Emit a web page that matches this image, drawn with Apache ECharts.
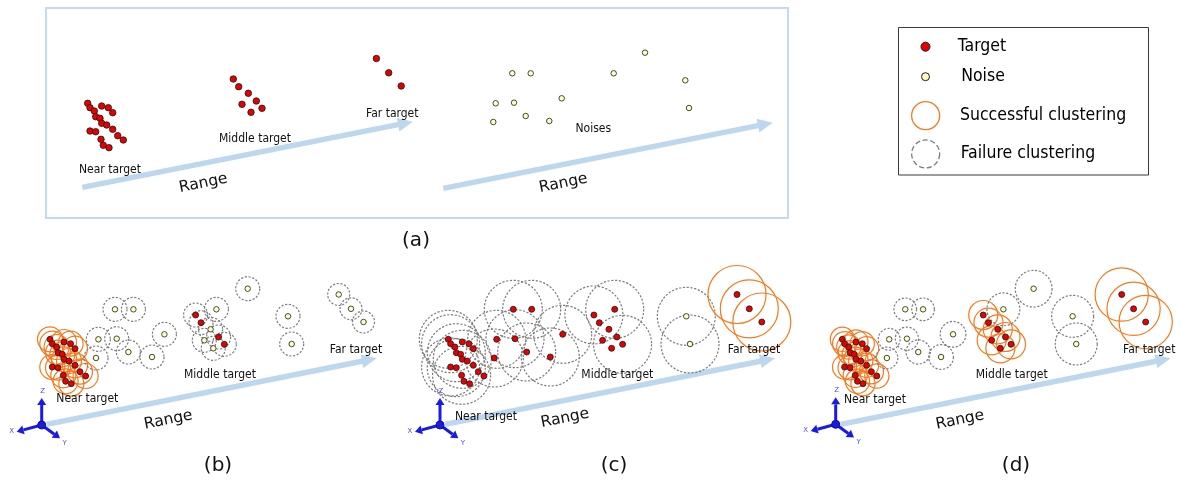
<!DOCTYPE html>
<html>
<head>
<meta charset="utf-8">
<script src="https://cdn.jsdelivr.net/npm/echarts@6/dist/echarts.min.js"></script>
<style>
  html, body { margin: 0; padding: 0; background: #fff; }
  #chart { width: 1181px; height: 481px; }
</style>
</head>
<body>
<div id="chart"></div>
<script>
// ---- Scene data: point positions inside one 400 x 215 panel ----
const nearTarget = [
  [50.0, 74.3], [52.3, 78.7], [56.6, 82.0], [64.0, 77.0], [70.6, 78.7], [75.0, 83.7],
  [58.0, 87.7], [62.3, 89.3], [64.0, 94.3], [69.0, 96.0], [75.0, 100.3], [52.3, 102.0],
  [58.0, 102.7], [80.0, 106.7], [85.6, 111.0], [63.3, 110.3], [65.6, 116.3], [71.3, 118.7]
];
const middleTarget = [
  [195.6, 50.0], [201.0, 57.7], [210.6, 64.3], [218.6, 72.0], [204.3, 75.3], [224.3, 79.3], [213.3, 83.3]
];
const farTarget = [[338.7, 29.5], [351.0, 43.8], [363.5, 57.0]];
const noise = [
  [115.0, 44.3], [133.4, 44.3], [98.4, 74.3], [116.7, 73.7], [128.4, 87.0], [96.0, 93.0],
  [164.4, 69.3], [152.0, 92.0], [247.7, 23.7], [216.4, 44.3], [288.0, 51.3], [291.7, 79.0]
];

// ---- Cluster radii per panel ----
const radiusB = { near: 12.5, middle: 12, far: 11, noise: 12 };
const radiusC = 29;
const radiusD = { near: 12.5, middle: 15, far: 27.5 };
const noiseRadiusD = [11.7, 11.7, 11.3, 12, 12.5, 11.3, 13.3, 12.8, 19, 17, 21.7, 21.7];

// ---- Which points take which role in (b) and (c) ----
const bMiddleAsTarget = [0, 1, 3, 5];
const bMiddleAsNoise = [2, 4, 6];
const cNoiseAsTarget = [0, 1, 2, 3, 4, 5, 6, 7, 9];
const cNoiseKept = [10, 11];
const cNearRinged = [0, 1, 6, 8, 11, 12, 15];
const cMiddleRinged = [0, 5];
const cNoiseRinged = [0, 1, 2, 3, 4, 5, 6, 7, 9, 10, 11];

// ---- Text ----
const legendNames = ['Target', 'Noise', 'Successful clustering', 'Failure clustering'];
const panelTitles = ['(a)', '(b)', '(c)', '(d)'];

// ---- Styling ----
const RED = '#e60000', YELLOW = '#ffffc4', ORANGE = '#f57a1f', GREY = '#7d7d7d';
const ARROW = '#bdd7ee', AXIS_BLUE = '#1a1ae6';
const LABEL_FONT = '12px "DejaVu Sans Condensed", "DejaVu Sans", sans-serif';
const RANGE_FONT = '15.5px "DejaVu Sans", sans-serif';
const TITLE_FONT = '20px "DejaVu Sans", sans-serif';

// grids: one per panel, all sharing the same scene scale
const panels = [
  { left: 37.7, top: 29 },   // (a) targets
  { left: 397.3, top: 29 },  // (a) noise
  { left: 0, top: 265 },     // (b)
  { left: 398.3, top: 265 }, // (c)
  { left: 794, top: 265 }    // (d)
];
const SCENE_W = 400, SCENE_H = 215;

const pick = (arr, idx) => idx.map(i => arr[i]);
const ring = (pts, r) => pts.map((p, i) => [p[0], p[1], Array.isArray(r) ? r[i] : r]);

function dots(name, data, gi, color, size) {
  return {
    type: 'scatter', name, data, xAxisIndex: gi, yAxisIndex: gi,
    symbol: 'circle', symbolSize: size, z: 5, silent: true,
    itemStyle: { color, borderColor: '#1a1a1a', borderWidth: 0.8, opacity: 1 }
  };
}

function rings(name, data, gi, stroke, dash) {
  return {
    type: 'custom', name, data, xAxisIndex: gi, yAxisIndex: gi, z: 3, silent: true,
    itemStyle: { color: stroke },
    encode: { x: 0, y: 1 },
    renderItem: function (params, api) {
      const c = api.coord([api.value(0), api.value(1)]);
      const r = api.size([api.value(2), 0])[0];
      return {
        type: 'circle',
        shape: { cx: c[0], cy: c[1], r: r },
        style: { fill: 'none', stroke: stroke, lineWidth: 1.2, lineDash: dash }
      };
    }
  };
}

const DASH = [2.2, 1.6];
const series = [
  // (a)
  dots('Target', nearTarget.concat(middleTarget, farTarget), 0, RED, 6.5),
  dots('Noise', noise, 1, YELLOW, 5.5),
  // (b) fixed small radius
  rings('Successful clustering', ring(nearTarget, radiusB.near), 2, ORANGE, null),
  rings('Failure clustering',
    ring(middleTarget, radiusB.middle).concat(ring(farTarget, radiusB.far), ring(noise, radiusB.noise)),
    2, GREY, DASH),
  dots('Target', nearTarget.concat(pick(middleTarget, bMiddleAsTarget)), 2, RED, 6),
  dots('Noise', pick(middleTarget, bMiddleAsNoise).concat(farTarget, noise), 2, YELLOW, 5.5),
  // (c) fixed large radius
  rings('Failure clustering',
    ring(pick(nearTarget, cNearRinged), radiusC).concat(
      ring(pick(noise, cNoiseRinged), radiusC), ring(pick(middleTarget, cMiddleRinged), radiusC)),
    3, GREY, DASH),
  rings('Successful clustering', ring(farTarget, radiusC), 3, ORANGE, null),
  dots('Target', nearTarget.concat(pick(noise, cNoiseAsTarget), middleTarget, farTarget), 3, RED, 6),
  dots('Noise', pick(noise, cNoiseKept), 3, YELLOW, 5.5),
  // (d) range-adaptive radius
  rings('Successful clustering',
    ring(nearTarget, radiusD.near).concat(ring(middleTarget, radiusD.middle), ring(farTarget, radiusD.far)),
    4, ORANGE, null),
  rings('Failure clustering', ring(noise, noiseRadiusD), 4, GREY, DASH),
  dots('Target', nearTarget.concat(middleTarget, farTarget), 4, RED, 6),
  dots('Noise', noise, 4, YELLOW, 5.5)
];

// ---- decorations ----
function rangeArrow(x0, y0, x1, y1) {
  const dx = x1 - x0, dy = y1 - y0, L = Math.hypot(dx, dy);
  const ux = dx / L, uy = dy / L, nx = -uy, ny = ux;
  const hw = 2.7, hl = 15, hh = 7;
  const bx = x1 - ux * hl, by = y1 - uy * hl;
  return {
    type: 'polygon', silent: true, z: 1,
    shape: { points: [
      [x0 + nx * hw, y0 + ny * hw], [bx + nx * hw, by + ny * hw], [bx + nx * hh, by + ny * hh],
      [x1, y1], [bx - nx * hh, by - ny * hh], [bx - nx * hw, by - ny * hw], [x0 - nx * hw, y0 - ny * hw]
    ] },
    style: { fill: ARROW }
  };
}

function text(str, x, y, font, rot) {
  return {
    type: 'text', x, y, rotation: rot || 0, silent: true, z: 10,
    style: { text: str, font, fill: '#111', align: 'center', verticalAlign: 'middle' }
  };
}

function smallArrow(ox, oy, tx, ty) {
  const dx = tx - ox, dy = ty - oy, L = Math.hypot(dx, dy);
  const ux = dx / L, uy = dy / L, nx = -uy, ny = ux;
  const hl = 7, hh = 4.5;
  const bx = tx - ux * hl, by = ty - uy * hl;
  return [
    { type: 'line', silent: true, z: 6, shape: { x1: ox, y1: oy, x2: bx, y2: by },
      style: { stroke: AXIS_BLUE, lineWidth: 3 } },
    { type: 'polygon', silent: true, z: 6,
      shape: { points: [[bx + nx * hh, by + ny * hh], [tx, ty], [bx - nx * hh, by - ny * hh]] },
      style: { fill: AXIS_BLUE } }
  ];
}

function axesIcon(ox, oy) {
  const els = [].concat(
    smallArrow(ox, oy, ox, oy - 27),
    smallArrow(ox, oy, ox - 25, oy + 6.7),
    smallArrow(ox, oy, ox + 18.3, oy + 13.3)
  );
  els.push({ type: 'circle', silent: true, z: 7, shape: { cx: ox, cy: oy, r: 4 },
    style: { fill: AXIS_BLUE, stroke: '#0c0c99', lineWidth: 1 } });
  const lab = (s, x, y) => ({ type: 'text', x, y, silent: true, z: 7,
    style: { text: s, font: '7px "DejaVu Sans", sans-serif', fill: '#4d4dff', align: 'center', verticalAlign: 'middle' } });
  els.push(lab('Z', ox + 1, oy - 34), lab('X', ox - 30, oy + 6), lab('Y', ox + 23, oy + 18));
  return els;
}

const RANGE_ROT = Math.atan2(65.6, 330.4);

const graphic = [
  // frame of panel (a)
  { type: 'rect', silent: true, z: 0, shape: { x: 46, y: 8, width: 742, height: 210 },
    style: { fill: 'none', stroke: '#c3daf0', lineWidth: 2 } },
  // legend frame
  { type: 'rect', silent: true, z: 0, shape: { x: 898.5, y: 27.5, width: 250, height: 147.5 },
    style: { fill: '#fff', stroke: '#3a3a3a', lineWidth: 1 } },
  // (a)
  rangeArrow(82.3, 187.3, 412.7, 121.7),
  rangeArrow(443.3, 188.3, 772.7, 122.7),
  text('Near target', 110, 170, LABEL_FONT),
  text('Middle target', 255, 139.3, LABEL_FONT),
  text('Far target', 392.3, 114, LABEL_FONT),
  text('Noises', 593.3, 129, LABEL_FONT),
  text('Range', 203.3, 183.3, RANGE_FONT, RANGE_ROT),
  text('Range', 563.3, 183.3, RANGE_FONT, RANGE_ROT),
  text(panelTitles[0], 416, 241, TITLE_FONT),
  // (b)
  rangeArrow(46.7, 424.3, 376.7, 358.3),
  text('Near target', 87.3, 399, LABEL_FONT),
  text('Middle target', 220, 375, LABEL_FONT),
  text('Far target', 356, 350, LABEL_FONT),
  text('Range', 168.3, 420, RANGE_FONT, RANGE_ROT),
  text(panelTitles[1], 218, 466, TITLE_FONT),
  // (c)
  rangeArrow(445, 424.3, 775, 358.3),
  text('Near target', 486, 417.3, LABEL_FONT),
  text('Middle target', 617.3, 375, LABEL_FONT),
  text('Far target', 754, 350, LABEL_FONT),
  text('Range', 565, 418.3, RANGE_FONT, RANGE_ROT),
  text(panelTitles[2], 614, 466, TITLE_FONT),
  // (d)
  rangeArrow(840.7, 424.3, 1170.7, 358.3),
  text('Near target', 875, 400, LABEL_FONT),
  text('Middle target', 1011.7, 375, LABEL_FONT),
  text('Far target', 1149.3, 350, LABEL_FONT),
  text('Range', 960, 420, RANGE_FONT, RANGE_ROT),
  text(panelTitles[3], 1016, 466, TITLE_FONT)
].concat(axesIcon(41.7, 425), axesIcon(440, 425), axesIcon(835.7, 424.3));

// ---- legend: one component per entry so each icon keeps its own size ----
const legendText = { color: '#000', fontSize: 17.5, lineHeight: 20,
  fontFamily: '"DejaVu Sans Condensed", "DejaVu Sans", sans-serif' };
function legendEntry(name, left, top, size, padLeft, itemStyle) {
  return {
    data: [{ name, icon: 'circle', itemStyle }], left, top, padding: 0,
    itemWidth: size, itemHeight: size, orient: 'vertical', z: 20,
    textStyle: Object.assign({ padding: [0, 0, 0, padLeft] }, legendText)
  };
}
const legend = [
  legendEntry(legendNames[0], 920.5, 36.7, 9, 22.8, { color: RED, borderColor: '#1a1a1a', borderWidth: 1 }),
  legendEntry(legendNames[1], 921, 66.7, 8, 26.7, { color: YELLOW, borderColor: '#1a1a1a', borderWidth: 1 }),
  legendEntry(legendNames[2], 911, 101, 28, 15.3, { color: 'rgba(0,0,0,0)', borderColor: ORANGE, borderWidth: 1.3 }),
  legendEntry(legendNames[3], 911, 139.3, 28, 16, { color: 'rgba(0,0,0,0)', borderColor: GREY, borderWidth: 1.3, borderType: 'dashed' })
];

const option = {
  animation: false,
  backgroundColor: '#fff',
  grid: panels.map(p => ({ left: p.left, top: p.top, width: SCENE_W, height: SCENE_H })),
  xAxis: panels.map((p, i) => ({ type: 'value', gridIndex: i, min: 0, max: SCENE_W, show: false })),
  yAxis: panels.map((p, i) => ({ type: 'value', gridIndex: i, min: 0, max: SCENE_H, inverse: true, show: false })),
  legend,
  graphic,
  series
};

const chart = echarts.init(document.getElementById('chart'), null, { renderer: 'canvas' });
chart.setOption(option);
</script>
</body>
</html>
